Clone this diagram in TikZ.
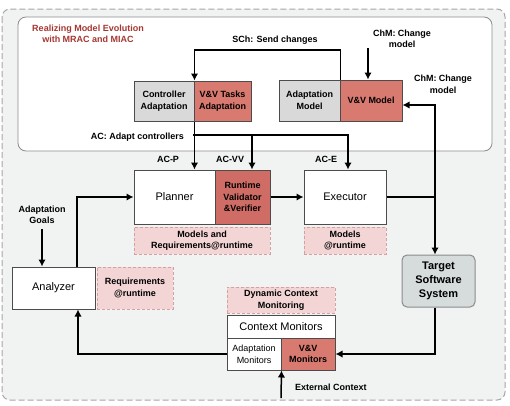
\documentclass[tikz,border=0pt]{standalone}
\usepackage{fontspec}
\setmainfont{Liberation Sans}
\usetikzlibrary{arrows.meta}
\definecolor{vvred}{RGB}{216,122,112}
\definecolor{vvdark}{RGB}{207,108,102}
\definecolor{adgray}{RGB}{217,217,217}
\definecolor{rtpink}{RGB}{243,213,213}
\definecolor{rtborder}{RGB}{214,160,160}
\definecolor{bggray}{RGB}{241,243,243}
\definecolor{titlered}{RGB}{165,55,50}
\definecolor{tgray}{RGB}{214,219,219}

\begin{document}
\begin{tikzpicture}[x=1pt,y=-1pt,>={Latex[length=7pt,width=7.5pt]},
  box/.style={draw=black!70,line width=1pt,inner sep=0pt,align=center},
  bold/.style={font=\bfseries\fontsize{9}{11.5}\selectfont},
  plain/.style={font=\fontsize{11}{13}\selectfont},
  gbox/.style={box,bold,fill=adgray},
  vvbox/.style={box,bold,fill=vvred},
  wbox/.style={box,plain,fill=white},
  rtbox/.style={draw=rtborder,fill=rtpink,dash pattern=on 3pt off 2pt,line width=0.8pt,inner sep=0pt,align=center,bold},
  lbl/.style={bold,align=center,inner sep=0pt},
  flow/.style={->,line width=1.5pt}]
  \useasboundingbox (0,0) rectangle (510,405);
  \draw[draw=black!35,fill=bggray,dash pattern=on 6pt off 3pt,line width=1pt,rounded corners=8pt] (2,9) rectangle (505,400);
  \draw[draw=black!45,fill=white,line width=0.8pt,rounded corners=8pt] (18,17) rectangle (492,151);
  \node[lbl,text=titlered] (title) at (88,34) {Realizing Model Evolution\\with MRAC and MIAC};

  \node[gbox,minimum width=60pt,minimum height=40pt] (ctrladapt) at (164,101) {Controller\\Adaptation};
  \node[vvbox,minimum width=57pt,minimum height=40pt] (vvtasks) at (222.5,101) {V\&V Tasks\\Adaptation};
  \node[gbox,minimum width=61pt,minimum height=41pt] (adaptmodel) at (309.5,100.5) {Adaptation\\Model};
  \node[vvbox,minimum width=62pt,minimum height=41pt] (vvmodel) at (371,100.5) {V\&V Model};

  \node[wbox,minimum width=81pt,minimum height=54pt] (planner) at (174.5,197) {Planner};
  \node[vvbox,fill=vvdark,minimum width=55pt,minimum height=54pt] (rtvv) at (242.5,197) {Runtime\\Validator\\\&Verifier};
  \node[wbox,minimum width=82pt,minimum height=54pt] (executor) at (345,197) {Executor};
  \node[rtbox,minimum width=136pt,minimum height=27pt] (modelsreq) at (202,240.5) {Models and\\Requirements@runtime};
  \node[rtbox,minimum width=82pt,minimum height=27pt] (modelsrt) at (345,240.5) {Models\\@runtime};

  \node[wbox,minimum width=83pt,minimum height=42pt] (analyzer) at (53.5,288) {Analyzer};
  \node[rtbox,minimum width=76pt,minimum height=42pt] (reqrt) at (135,288) {Requirements\\@runtime};
  \node[draw=black!45,fill=tgray,rounded corners=5pt,line width=1pt,minimum width=73pt,minimum height=52pt,align=center,font=\bfseries\fontsize{11}{14}\selectfont] (target) at (438.5,281) {Target\\Software\\System};

  \node[rtbox,minimum width=108pt,minimum height=26pt] (dyncontext) at (281,300) {Dynamic Context\\Monitoring};
  \node[wbox,minimum width=108pt,minimum height=23pt] (ctxmon) at (281,326.5) {Context Monitors};
  \node[box,fill=white,font=\fontsize{9}{12}\selectfont,minimum width=54pt,minimum height=32pt] (adaptmon) at (254,354) {Adaptation\\Monitors};
  \node[vvbox,minimum width=54pt,minimum height=32pt] (vvmon) at (308,354) {V\&V\\Monitors};

  \node[lbl] (schlbl) at (275,40) {SCh: Send changes};
  \node[lbl] (chmtop) at (402,39) {ChM: Change\\model};
  \node[lbl] (chmright) at (443,84.5) {ChM: Change\\model};
  \node[lbl,anchor=east] (aclbl) at (184,137) {AC: Adapt controllers};
  \node[lbl] (acp) at (168,159) {AC-P};
  \node[lbl] (acvv) at (230,159) {AC-VV};
  \node[lbl] (ace) at (326,159) {AC-E};
  \node[lbl] (goals) at (42,215) {Adaptation\\Goals};
  \node[lbl,anchor=west] (extlbl) at (295,387) {External Context};

  \coordinate (sch) at (340,50);
  \coordinate (chm) at (368,48);
  \coordinate (ac) at (193,135);
  \coordinate (tj) at (435,197);
  \coordinate (ext) at (281,398);

  \draw[flow] (adaptmodel.north east) |- (sch) -| (ctrladapt.north east);
  \draw[flow] (chm) -- (chm |- vvmodel.north);
  \draw[flow] (ctrladapt.south east) -- (ctrladapt.south east |- planner.north);
  \draw[flow] (ac) -| ([xshift=3pt]executor.north);
  \draw[flow] ([xshift=9.5pt]rtvv.north |- ac) -- ([xshift=9.5pt]rtvv.north);
  \draw[flow] (rtvv.east) -- (executor.west);
  \draw[line width=1.5pt] (executor.east) -- (tj);
  \draw[flow] (tj) -- (tj |- target.north);
  \draw[flow] (tj) |- ([yshift=-4.5pt]vvmodel.east);
  \draw[flow] (tj |- target.south) |- (vvmon.east);
  \draw[flow] (adaptmon.west) -| ([xshift=24.5pt]analyzer.south);
  \draw[flow] ([xshift=23.5pt]analyzer.north) |- (planner.west);
  \draw[flow] (goals.south) ++(0,5) -- (goals.south |- analyzer.north);
  \draw[flow] (ext) -- (adaptmon.south east);
\end{tikzpicture}
\end{document}
